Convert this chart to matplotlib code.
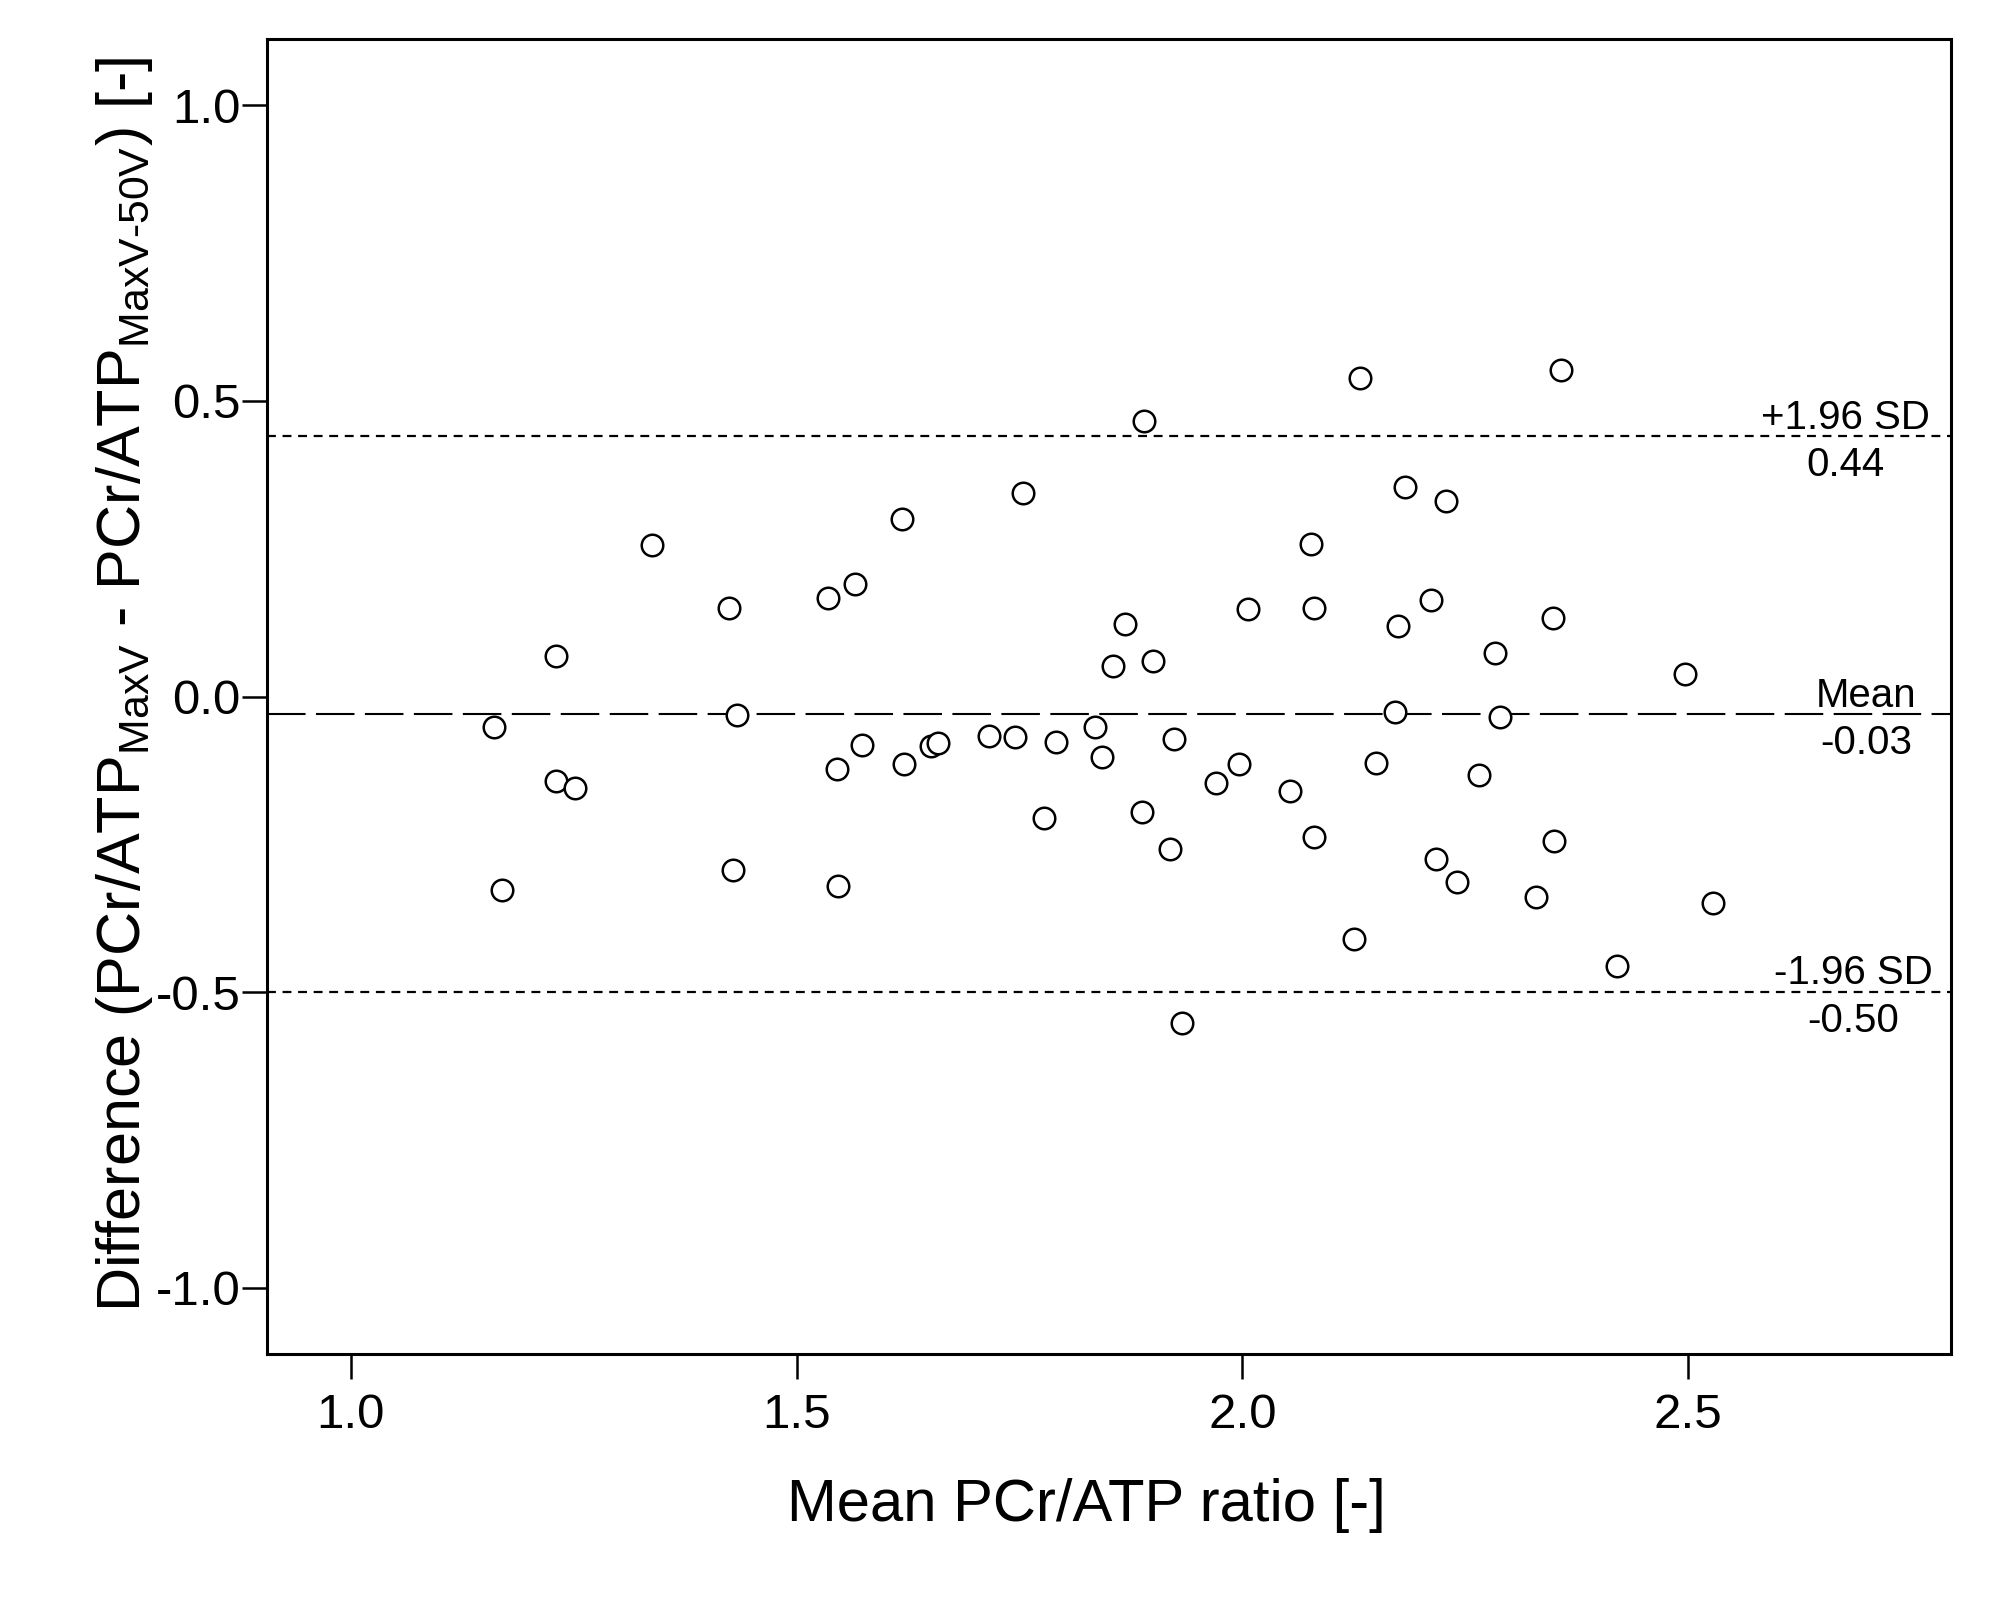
import matplotlib
matplotlib.use("Agg")
import matplotlib.pyplot as plt
from matplotlib.ticker import FormatStrFormatter

plt.rcParams['font.family'] = ['Liberation Sans', 'DejaVu Sans']
plt.rcParams['mathtext.fontset'] = 'custom'
plt.rcParams['mathtext.rm'] = 'Liberation Sans'
plt.rcParams['axes.unicode_minus'] = False

# Data (Bland-Altman)
mean_ratio = [1.161, 1.170, 1.230, 1.230, 1.252, 1.338, 1.424, 1.433, 1.429, 1.535,
              1.566, 1.545, 1.574, 1.547, 1.618, 1.620, 1.651, 1.659, 1.716, 1.745,
              1.754, 1.778, 1.791, 1.835, 1.843, 1.855, 1.869, 1.890, 1.887, 1.900,
              1.919, 1.923, 1.932, 1.970, 1.996, 2.006, 2.054, 2.077, 2.080, 2.081,
              2.125, 2.132, 2.150, 2.171, 2.175, 2.182, 2.212, 2.217, 2.229, 2.241,
              2.265, 2.283, 2.289, 2.329, 2.349, 2.350, 2.357, 2.420, 2.497, 2.528]
difference = [-0.052, -0.327, 0.068, -0.142, -0.155, 0.257, 0.149, -0.032, -0.294, 0.167,
              0.191, -0.122, -0.082, -0.320, 0.301, -0.114, -0.083, -0.078, -0.067, -0.069,
              0.345, -0.206, -0.077, -0.052, -0.103, 0.052, 0.122, 0.466, -0.195, 0.060,
              -0.258, -0.071, -0.552, -0.146, -0.114, 0.148, -0.159, 0.258, 0.150, -0.238,
              -0.410, 0.539, -0.112, -0.026, 0.120, 0.354, 0.163, -0.275, 0.330, -0.313,
              -0.133, 0.073, -0.034, -0.339, 0.133, -0.245, 0.552, -0.455, 0.039, -0.350]

mean_diff = -0.03
upper_loa = 0.44
lower_loa = -0.50
line_names = ['+1.96 SD', 'Mean', '-1.96 SD']
line_values = [upper_loa, mean_diff, lower_loa]
label_x = [2.677, 2.700, 2.685]

x_ticks = [1.0, 1.5, 2.0, 2.5]
y_ticks = [-1.0, -0.5, 0.0, 0.5, 1.0]

# Plotting
fig = plt.figure(figsize=(19.91, 16), dpi=100)
ax = fig.add_axes([0.1341, 0.1538, 0.8458, 0.8217])

ax.axhline(mean_diff, color='black', lw=1.5, dashes=(18.5, 5), zorder=2)
ax.axhline(upper_loa, color='black', lw=1.6, dashes=(4, 3), zorder=2)
ax.axhline(lower_loa, color='black', lw=1.6, dashes=(4, 3), zorder=2)

ax.plot(mean_ratio, difference, linestyle='none', marker='o', markersize=15.5,
        markerfacecolor='white', markeredgecolor='black', markeredgewidth=1.8, zorder=3)

for name, val, lx in zip(line_names, line_values, label_x):
    ax.annotate(name, (lx, val), xytext=(0, 5.5), textcoords='offset points',
                ha='center', va='baseline', fontsize=29)
    ax.annotate('%.2f' % val, (lx, val), xytext=(0, -28.5), textcoords='offset points',
                ha='center', va='baseline', fontsize=29)

ax.set_xlim(0.906, 2.795)
ax.set_ylim(-1.112, 1.112)
ax.set_xticks(x_ticks)
ax.set_yticks(y_ticks)
ax.xaxis.set_major_formatter(FormatStrFormatter('%.1f'))
ax.yaxis.set_major_formatter(FormatStrFormatter('%.1f'))
ax.tick_params(axis='both', direction='out', length=18, width=1.8, labelsize=35.5)
ax.tick_params(axis='x', pad=10)
ax.tick_params(axis='y', pad=1)
for sp in ax.spines.values():
    sp.set_linewidth(2.2)

fig.text(0.5455, 0.0494, 'Mean PCr/ATP ratio [-]', ha='center', va='baseline', fontsize=43)
fig.text(0.078, 0.5725,
         r'Difference (PCr/ATP$_{\mathrm{MaxV}}$ - PCr/ATP$_{\mathrm{MaxV\text{-}50V}}$) [-]',
         rotation=90, rotation_mode='anchor', ha='center', va='bottom', fontsize=44)

fig.savefig('out.png', dpi=100)
